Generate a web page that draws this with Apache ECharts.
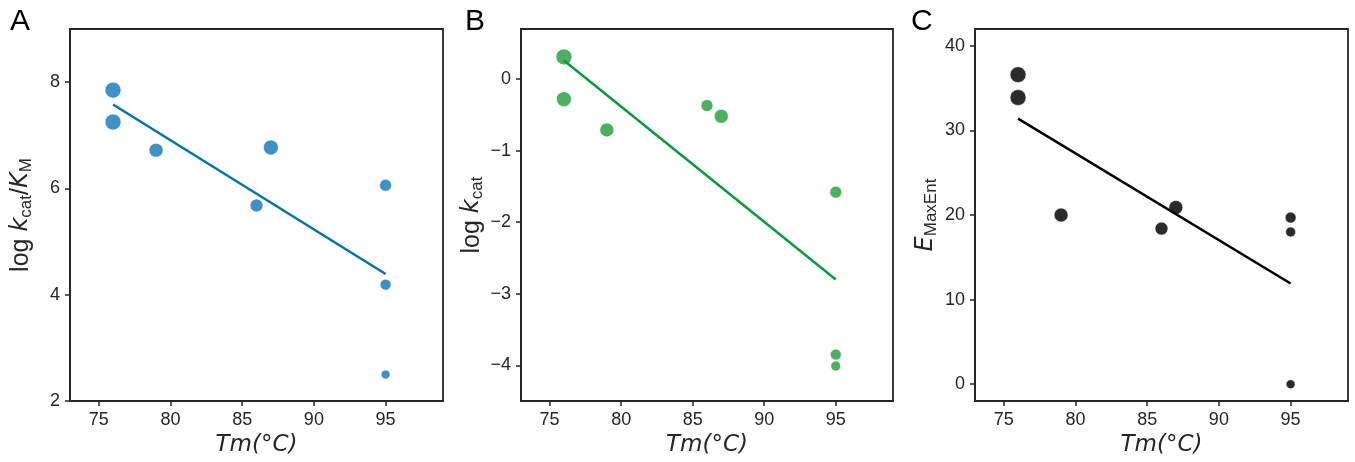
<!DOCTYPE html>
<html>
<head>
<meta charset="utf-8">
<script src="https://cdn.jsdelivr.net/npm/echarts@6/dist/echarts.min.js"></script>
<style>
html,body{margin:0;padding:0;background:#fff;}
#chart{width:1355px;height:462px;}
</style>
</head>
<body>
<div id="chart"></div>
<script>
// ---- data ----
var xTicks = [75, 80, 85, 90, 95];

var tmA = [76, 76, 79, 87, 86, 95, 95, 95];
var logKcatKm = [7.85, 7.25, 6.72, 6.77, 5.68, 6.06, 4.19, 2.50];
var sizeA = [16, 16, 14, 15, 13, 12, 11, 9];
var yTicksA = [2, 4, 6, 8];

var tmB = [76, 76, 79, 86, 87, 95, 95, 95];
var logKcat = [0.31, -0.28, -0.71, -0.37, -0.52, -1.58, -3.85, -4.01];
var sizeB = [16, 15, 14, 12, 14, 12, 11, 10];
var yTicksB = [-4, -3, -2, -1, 0];

var tmC = [76, 76, 79, 86, 87, 95, 95, 95];
var eMaxEnt = [36.6, 33.9, 20.0, 18.4, 20.9, 19.7, 18.0, 0];
var sizeC = [16, 16, 14, 13, 14, 11, 10, 9];
var yTicksC = [0, 10, 20, 30, 40];

var fitX = [76, 95];
var fitA = [7.58, 4.39];
var fitB = [0.26, -2.80];
var fitC = [31.4, 11.9];

// ---- styling ----
var ink = '#262626';
var grids = [
  {left: 70, top: 29, width: 373, height: 373},
  {left: 521, top: 29, width: 372, height: 373},
  {left: 975, top: 29, width: 373, height: 373}
];
function fmt(v){ return String(v).replace('-', '\u2212'); }
function xAxis(i){
  return {
    type: 'value', gridIndex: i, min: 73, max: 99,
    name: 'Tm(°C)', nameLocation: 'middle', nameGap: 28,
    nameTextStyle: {fontFamily: 'DejaVu Sans', fontStyle: 'italic', fontSize: 23, color: ink},
    axisLine: {show: true, onZero: false, lineStyle: {color: ink, width: 1.8}},
    axisTick: {show: true, length: 5, lineStyle: {color: ink, width: 1.5}, customValues: xTicks},
    axisLabel: {show: true, margin: 10, fontFamily: 'Liberation Sans', fontSize: 18, color: ink, customValues: xTicks, formatter: fmt},
    splitLine: {show: false}
  };
}
var richY = {
  n: {fontFamily: 'Liberation Sans', fontSize: 25, color: ink},
  i: {fontFamily: 'DejaVu Sans', fontStyle: 'italic', fontSize: 24, color: ink},
  s: {fontFamily: 'Liberation Sans', fontSize: 17, color: ink, padding: [11, 0, 0, 0]}
};
function yAxis(i, min, max, ticks, name){
  return {
    type: 'value', gridIndex: i, min: min, max: max,
    name: name, nameLocation: 'middle', nameGap: 35,
    nameTextStyle: {rich: richY},
    axisLine: {show: true, onZero: false, lineStyle: {color: ink, width: 1.8}},
    axisTick: {show: true, length: 5, lineStyle: {color: ink, width: 1.5}, customValues: ticks},
    axisLabel: {show: true, margin: 10, fontFamily: 'Liberation Sans', fontSize: 18, color: ink, customValues: ticks, formatter: fmt},
    splitLine: {show: false}
  };
}
function pts(xs, ys){ return xs.map(function(x, k){ return [x, ys[k]]; }); }
function scatter(i, xs, ys, sizes, color){
  return {
    type: 'scatter', xAxisIndex: i, yAxisIndex: i,
    data: pts(xs, ys),
    symbolSize: function(v, p){ return sizes[p.dataIndex]; },
    itemStyle: {color: color, opacity: 1, borderColor: '#ffffff', borderWidth: 0.6},
    z: 2, silent: true
  };
}
function fit(i, ys, color){
  return {
    type: 'line', xAxisIndex: i, yAxisIndex: i,
    data: pts(fitX, ys), showSymbol: false, symbol: 'none',
    lineStyle: {color: color, width: 2.5}, z: 3, silent: true
  };
}

var chart = echarts.init(document.getElementById('chart'), null, {renderer: 'canvas'});
chart.setOption({
  animation: false,
  backgroundColor: '#ffffff',
  grid: grids.map(function(g){ return Object.assign({show: true, borderColor: ink, borderWidth: 1.8, backgroundColor: '#fff'}, g); }),
  xAxis: [xAxis(0), xAxis(1), xAxis(2)],
  yAxis: [
    yAxis(0, 2, 9, yTicksA, '{n|log }{i|k}{s|cat}{n|/}{i|K}{s|M}'),
    yAxis(1, -4.5, 0.7, yTicksB, '{n|log }{i|k}{s|cat}'),
    yAxis(2, -2, 42, yTicksC, '{i|E}{s|MaxEnt}')
  ],
  graphic: [
    {type: 'text', left: 10, top: 7, style: {text: 'A', font: '30px "Liberation Sans"', fill: '#000'}},
    {type: 'text', left: 465, top: 7, style: {text: 'B', font: '30px "Liberation Sans"', fill: '#000'}},
    {type: 'text', left: 911, top: 7, style: {text: 'C', font: '30px "Liberation Sans"', fill: '#000'}}
  ],
  series: [
    scatter(0, tmA, logKcatKm, sizeA, '#3f91c5'),
    fit(0, fitA, '#0173b2'),
    scatter(1, tmB, logKcat, sizeB, '#4caf62'),
    fit(1, fitB, '#0a9b3a'),
    scatter(2, tmC, eMaxEnt, sizeC, '#2b2b2b'),
    fit(2, fitC, '#000000')
  ]
});
</script>
</body>
</html>
